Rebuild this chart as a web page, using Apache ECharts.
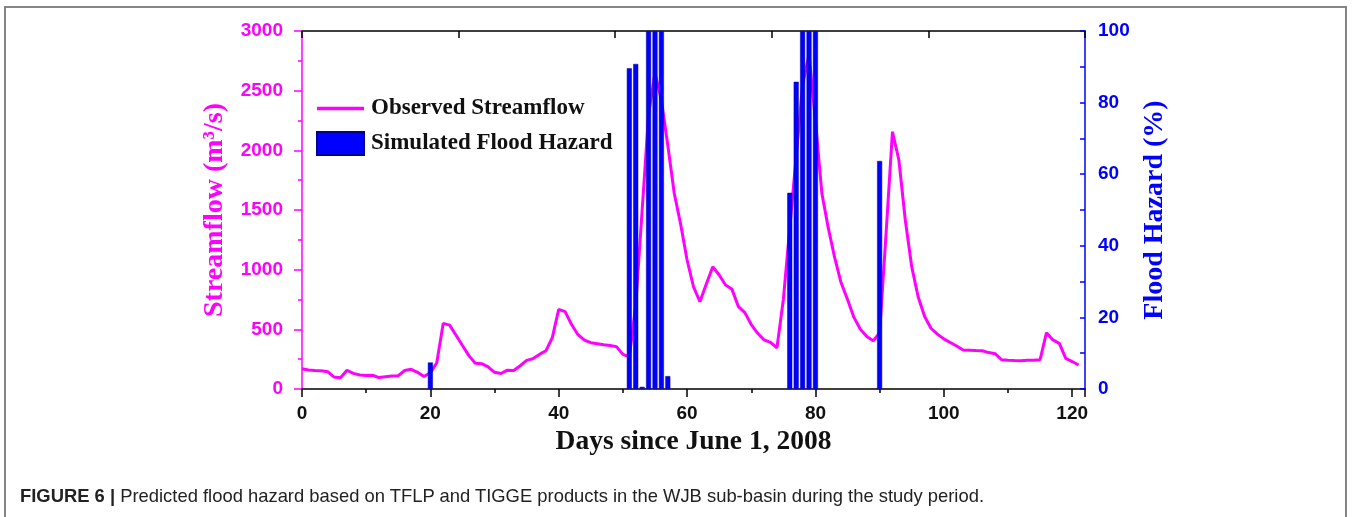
<!DOCTYPE html>
<html>
<head>
<meta charset="utf-8">
<script src="https://cdn.jsdelivr.net/npm/echarts@6/dist/echarts.min.js"></script>
<style>
  html, body { margin: 0; padding: 0; background: #fff; }
  #frame {
    position: absolute; left: 4px; top: 6px; width: 1343px; height: 520px;
    border: 2px solid #858585; border-bottom: none; box-sizing: border-box;
  }
  #chart { position: absolute; left: 0; top: 0; width: 1352px; height: 517px; }
  #caption {
    position: absolute; left: 20px; top: 485px;
    font-family: "Liberation Sans", Arial, sans-serif; font-size: 18.4px; color: #222;
    white-space: nowrap;
  }
  #caption b { font-weight: bold; }
</style>
</head>
<body>
<div id="frame"></div>
<div id="chart"></div>
<div id="caption"><b>FIGURE 6 |</b> Predicted flood hazard based on TFLP and TIGGE products in the WJB sub-basin during the study period.</div>
<script>
// observed daily streamflow (m3/s), day 0 .. 121
const flowDays = Array.from({ length: 122 }, (_, i) => i);
const flowValues = [
  170, 160, 155, 152, 145, 100, 95, 157, 131, 118,
  114, 115, 96, 102, 108, 112, 155, 165, 140, 105,
  135, 220, 550, 535, 450, 365, 280, 215, 212, 185,
  140, 130, 158, 155, 195, 240, 255, 290, 320, 430,
  668, 648, 540, 455, 410, 388, 380, 370, 365, 355,
  290, 270, 700, 1500, 2300, 2650, 2420, 2040, 1640, 1380,
  1081, 857, 732, 880, 1025, 955, 871, 835, 690, 640,
  540, 467, 411, 390, 345, 750, 1350, 1950, 2550, 2800,
  2250, 1640, 1350, 1100, 890, 750, 600, 500, 440, 405,
  470, 1300, 2156, 1919, 1416, 1025, 773, 610, 509, 460,
  420, 390, 360, 327, 325, 322, 320, 305, 296, 245,
  240, 238, 237, 240, 240, 245, 472, 411, 383, 257,
  230, 201
];

// simulated flood hazard (%)
const hazardDays = [20, 51, 52, 53, 54, 55, 56, 57, 76, 77, 78, 79, 80, 90];
const hazardValues = [7.4, 89.6, 90.8, 0.6, 100, 100, 100, 3.6, 54.8, 85.8, 100, 100, 100, 63.7];

const chart = echarts.init(document.getElementById("chart"), null, { renderer: "canvas" });

const tickFont = { fontFamily: "Liberation Sans", fontWeight: "bold", fontSize: 19 };
const titleFont = { fontFamily: "Liberation Serif", fontWeight: "bold" };
const plain = (v) => String(v);

chart.setOption({
  backgroundColor: "transparent",
  animation: false,
  grid: { left: 302, right: 267, top: 31, bottom: 128 },
  legend: {
    orient: "vertical",
    left: 316,
    top: 97,
    padding: 0,
    itemWidth: 47,
    itemHeight: 23,
    itemGap: 11,
    data: [
      { name: "Observed Streamflow", icon: "path://M0,0 L47,0 L47,3.5 L0,3.5 Z" },
      { name: "Simulated Flood Hazard", icon: "rect" },
    ],
    textStyle: { ...titleFont, fontSize: 23, color: "#111", padding: [0, 0, 0, 2] },
  },
  xAxis: [
    {
      type: "value",
      min: 0,
      max: 122,
      interval: 20,
      name: "Days since June 1, 2008",
      nameLocation: "middle",
      nameGap: 36,
      nameTextStyle: { ...titleFont, fontSize: 27.5, color: "#111" },
      axisLine: { onZero: false, lineStyle: { color: "#000", width: 1.5 } },
      axisTick: { show: true, length: 8, lineStyle: { color: "#000", width: 1.5 } },
      minorTick: { show: true, splitNumber: 2, length: 4, lineStyle: { color: "#000", width: 1.5 } },
      splitLine: { show: false },
      axisLabel: {
        ...tickFont,
        color: "#111",
        margin: 15,
        formatter: (v) => (v % 20 === 0 ? String(v) : ""),
      },
    },
    {
      type: "value",
      position: "top",
      min: 0,
      max: 5,
      interval: 1,
      axisLine: { onZero: false, lineStyle: { color: "#000", width: 1.5 } },
      axisTick: { show: true, inside: true, length: 7, lineStyle: { color: "#000", width: 1.5 } },
      axisLabel: { show: false },
      splitLine: { show: false },
    },
  ],
  yAxis: [
    {
      type: "value",
      min: 0,
      max: 3000,
      interval: 500,
      name: "Streamflow (m³/s)",
      nameLocation: "middle",
      nameGap: 73,
      nameTextStyle: { ...titleFont, fontSize: 28, color: "#ff00ff" },
      axisLine: { show: true, onZero: false, lineStyle: { color: "#ff00ff", width: 1.5 } },
      axisTick: { show: true, length: 8, lineStyle: { color: "#ff00ff", width: 1.5 } },
      minorTick: { show: true, splitNumber: 2, length: 4, lineStyle: { color: "#ff00ff", width: 1.5 } },
      splitLine: { show: false },
      axisLabel: { ...tickFont, color: "#ff00ff", margin: 19, formatter: plain },
    },
    {
      type: "value",
      min: 0,
      max: 100,
      interval: 20,
      position: "right",
      name: "Flood Hazard (%)",
      nameLocation: "middle",
      nameGap: 42,
      nameTextStyle: { ...titleFont, fontSize: 28, color: "#0000ff" },
      axisLine: { show: true, onZero: false, lineStyle: { color: "#0000ff", width: 1.5 } },
      axisTick: { show: true, inside: true, length: 5, lineStyle: { color: "#0000ff", width: 1.5 } },
      minorTick: { show: true, splitNumber: 2, length: 5, lineStyle: { color: "#0000ff", width: 1.5 } },
      splitLine: { show: false },
      axisLabel: { ...tickFont, color: "#0000ff", margin: 13, formatter: plain },
    },
  ],
  series: [
    {
      name: "Observed Streamflow",
      type: "line",
      xAxisIndex: 0,
      yAxisIndex: 0,
      symbol: "none",
      lineStyle: { color: "#ff00ff", width: 3 },
      itemStyle: { color: "#ff00ff" },
      data: flowDays.map((d, i) => [d, flowValues[i]]),
      z: 2,
    },
    {
      name: "Simulated Flood Hazard",
      type: "bar",
      xAxisIndex: 0,
      yAxisIndex: 1,
      barWidth: 5,
      itemStyle: { color: "#0000ff", borderColor: "#000090", borderWidth: 0.5 },
      data: hazardDays.map((d, i) => [d, hazardValues[i]]),
      z: 3,
    },
  ],
});
</script>
</body>
</html>
